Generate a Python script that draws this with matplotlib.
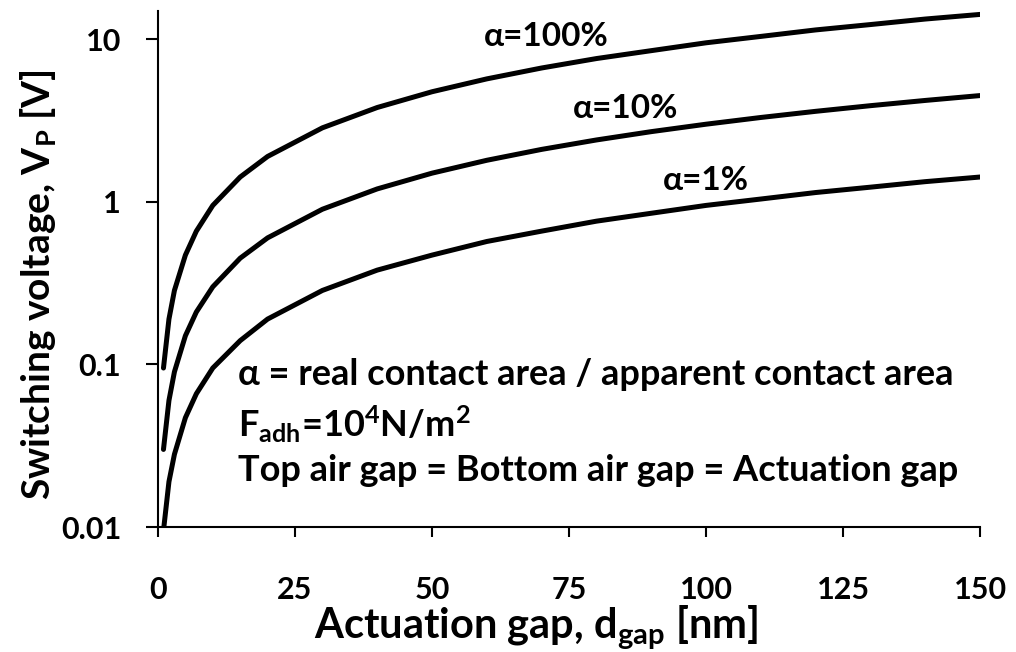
import matplotlib
matplotlib.use('Agg')
import matplotlib.pyplot as plt

gap_nm = [1, 2, 3, 5, 7, 10, 15, 20, 30, 40, 50, 60, 70, 80, 90, 100, 110, 120, 130, 140, 150]
vp_alpha_100 = [0.095, 0.19, 0.285, 0.47, 0.66, 0.95, 1.42, 1.9, 2.85, 3.8, 4.75,
                5.7, 6.65, 7.6, 8.5, 9.5, 10.4, 11.4, 12.3, 13.3, 14.2]
vp_alpha_10 = [0.030, 0.060, 0.090, 0.15, 0.21, 0.30, 0.45, 0.60, 0.90, 1.2, 1.5,
               1.8, 2.1, 2.4, 2.7, 3.0, 3.3, 3.6, 3.9, 4.2, 4.5]
vp_alpha_1 = [0.0095, 0.019, 0.028, 0.047, 0.066, 0.095, 0.14, 0.19, 0.285, 0.38, 0.47,
              0.57, 0.66, 0.76, 0.85, 0.95, 1.04, 1.14, 1.23, 1.33, 1.42]

curve_labels = ['α=100%', 'α=10%', 'α=1%']
x_ticks = [0, 25, 50, 75, 100, 125, 150]
y_ticks = [0.01, 0.1, 1, 10]
y_tick_labels = ['0.01', '0.1', '1', '10']

notes = [
    'α = real contact area / apparent contact area',
    r'F$_{adh}$=10$^{4}$N/m$^{2}$',
    'Top air gap = Bottom air gap = Actuation gap',
]

plt.rcParams['font.family'] = ['Lato', 'DejaVu Sans']
plt.rcParams['font.weight'] = 'bold'
plt.rcParams['mathtext.default'] = 'regular'

fig = plt.figure(figsize=(10.16, 6.52), dpi=100)
ax = fig.add_axes([0.1555, 0.1917, 0.8091, 0.7914])

for vals in (vp_alpha_100, vp_alpha_10, vp_alpha_1):
    ax.plot(gap_nm, vals, color='black', linewidth=3.6, solid_capstyle='round')

ax.set_yscale('log')
ax.set_xlim(0, 150)
ax.set_ylim(0.01, 14.9)
ax.set_xticks(x_ticks)
ax.set_yticks(y_ticks)
ax.set_yticklabels(y_tick_labels)
ax.minorticks_off()

for side in ('top', 'right'):
    ax.spines[side].set_visible(False)
for side in ('left', 'bottom'):
    ax.spines[side].set_linewidth(1.5)

ax.tick_params(axis='x', direction='out', length=7, width=1.5, pad=28, labelsize=22)
ax.tick_params(axis='y', direction='out', length=8.6, width=1.5, pad=18, labelsize=22)
for lab in ax.get_xticklabels() + ax.get_yticklabels():
    lab.set_fontweight('bold')

# подпись оси X в оригинале заходит на подписи делений
ax.set_xlabel(r'Actuation gap, d$_{gap}$ [nm]', fontsize=30, fontweight='bold', va='baseline')
ax.xaxis.set_label_coords(0.46, -0.215)
ax.set_ylabel(r'Switching voltage, V$_{P}$ [V]', fontsize=28, fontweight='bold', va='center')
ax.yaxis.set_label_coords(-0.146, 0.47)

# подписи кривых
label_pos = [(0.472, 0.950), (0.569, 0.812), (0.667, 0.672)]
for text, (px, py) in zip(curve_labels, label_pos):
    ax.text(px, py, text, transform=ax.transAxes, ha='center', va='center',
            fontsize=24, fontweight='bold')

note_y = [0.295, 0.198, 0.110]
for text, py in zip(notes, note_y):
    ax.text(0.097, py, text, transform=ax.transAxes, ha='left', va='center',
            fontsize=26, fontweight='bold')

fig.savefig('out.png', dpi=100)
